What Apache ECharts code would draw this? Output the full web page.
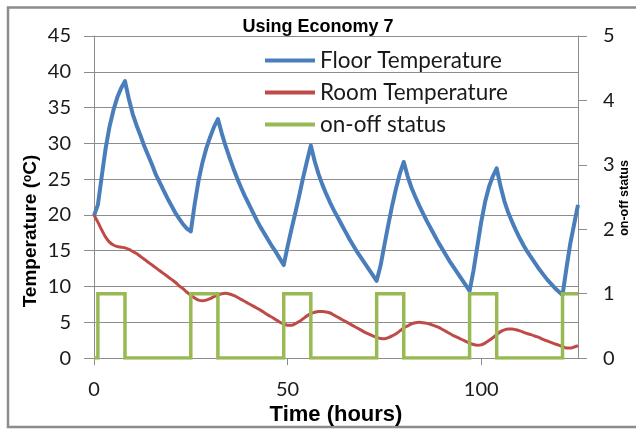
<!DOCTYPE html>
<html>
<head>
<meta charset="utf-8">
<script src="https://cdn.jsdelivr.net/npm/echarts@6.0.0/dist/echarts.min.js"></script>
<style>
  html, body { margin: 0; padding: 0; background: #ffffff; }
  #chart { width: 636px; height: 431px; }
</style>
</head>
<body>
<div id="chart"></div>
<script>
// Hourly simulation output, t = 0 .. 125 h
const floorTemperature = [
  19.9, 21.4, 25.4, 29.3, 32.3, 34.6, 36.4, 37.7, 38.7,
  36.2, 34.1, 32.5, 31.1, 29.6, 28.3, 27.0, 25.6, 24.5, 23.4, 22.3, 21.3, 20.3, 19.5, 18.7, 18.1, 17.7,
  21.5, 24.8, 27.3, 29.3, 30.9, 32.3, 33.4,
  31.4, 29.6, 28.0, 26.5, 25.1, 23.8, 22.6, 21.5, 20.4, 19.3, 18.3, 17.4, 16.5, 15.6, 14.8, 13.9, 13.0,
  15.6, 18.0, 20.3, 22.7, 25.2, 27.5, 29.7,
  27.5, 25.7, 24.2, 22.9, 21.7, 20.6, 19.6, 18.6, 17.6, 16.6, 15.7, 14.8, 14.0, 13.2, 12.4, 11.6, 10.8,
  12.9, 15.8, 18.6, 21.3, 23.7, 25.8, 27.4,
  25.4, 23.8, 22.5, 21.3, 20.2, 19.1, 18.1, 17.1, 16.1, 15.2, 14.3, 13.4, 12.6, 11.8, 11.0, 10.2, 9.4,
  12.2, 15.6, 19.0, 21.8, 23.9, 25.4, 26.5,
  24.0, 21.9, 20.3, 19.0, 17.8, 16.7, 15.7, 14.8, 14.0, 13.2, 12.4, 11.7, 11.0, 10.4, 9.8, 9.3, 8.8,
  12.5, 16.0, 18.7, 21.4
];

const roomTemperature = [
  20.0, 19.0, 17.9, 16.9, 16.2, 15.8, 15.6, 15.5, 15.4, 15.2,
  14.9, 14.6, 14.2, 13.8, 13.4, 13.0, 12.6, 12.2, 11.8, 11.4,
  11.0, 10.6, 10.1, 9.7, 9.2, 8.8, 8.4, 8.1, 8.0, 8.1,
  8.3, 8.6, 8.8, 9.0, 9.05, 8.95, 8.75, 8.5, 8.2, 7.9,
  7.6, 7.3, 7.0, 6.7, 6.35, 6.0, 5.7, 5.35, 5.0, 4.75,
  4.6, 4.6, 4.8, 5.1, 5.5, 5.9, 6.2, 6.4, 6.5, 6.5,
  6.45, 6.3, 6.0, 5.7, 5.4, 5.1, 4.8, 4.5, 4.2, 3.9,
  3.6, 3.35, 3.1, 2.9, 2.75, 2.7, 2.85, 3.1, 3.4, 3.8,
  4.2, 4.5, 4.8, 4.95, 5.0, 4.95, 4.85, 4.7, 4.5, 4.3,
  4.0, 3.7, 3.4, 3.1, 2.85, 2.6, 2.35, 2.1, 1.9, 1.8,
  1.85, 2.1, 2.45, 2.85, 3.3, 3.7, 3.95, 4.05, 4.05, 3.95,
  3.8, 3.6, 3.4, 3.25, 3.05, 2.85, 2.6, 2.4, 2.2, 2.0,
  1.8, 1.6, 1.4, 1.4, 1.55, 1.75
];

// Off-peak heater switching times (hours)
const switchOnHours = [1, 25, 49, 73, 97, 121];
const switchOffHours = [8, 32, 56, 80, 104];
const endHour = 125;

const timeTicks = [0, 50, 100];
const seriesNames = ['Floor Temperature', 'Room Temperature', 'on-off status'];

const hours = floorTemperature.map((_, i) => i);
const floorData = hours.map((h, i) => [h, floorTemperature[i]]);
const roomData = hours.map((h, i) => [h, roomTemperature[i]]);

// Square wave: vertical edges at each switching time
const statusData = [[0, 0]];
switchOnHours.forEach((on, i) => {
  statusData.push([on, 0], [on, 1]);
  const off = switchOffHours[i];
  if (off !== undefined) {
    statusData.push([off, 1], [off, 0]);
  } else {
    statusData.push([endHour, 1]);
  }
});

const axisGray = '#8c8c8c';
const frameGray = '#8c8c8c';
const labelFont = 'Lato';

const chart = echarts.init(document.getElementById('chart'), null, { renderer: 'canvas' });
chart.setOption({
  animation: false,
  backgroundColor: '#ffffff',
  title: {
    text: 'Using Economy 7',
    left: 'center',
    top: 13,
    textStyle: { fontFamily: 'Liberation Sans', fontWeight: 'bold', fontSize: 18, color: '#000' }
  },
  legend: {
    orient: 'vertical',
    left: 265,
    top: 49,
    padding: 0,
    icon: 'rect',
    itemWidth: 50,
    itemHeight: 4,
    itemGap: 9,
    data: seriesNames,
    textStyle: { fontFamily: labelFont, fontSize: 22.5, lineHeight: 22, color: '#1a1a1a' }
  },
  grid: { left: 94, right: 58, top: 36, bottom: 64, containLabel: false },
  xAxis: {
    type: 'value',
    min: 0,
    max: endHour,
    name: 'Time (hours)',
    nameLocation: 'middle',
    nameGap: 45,
    nameTextStyle: { fontFamily: 'Liberation Sans', fontWeight: 'bold', fontSize: 22, color: '#000' },
    axisLine: { show: true, lineStyle: { color: axisGray, width: 1 } },
    axisTick: { show: true, length: 7, customValues: timeTicks, lineStyle: { color: axisGray } },
    axisLabel: { customValues: timeTicks, margin: 21, fontFamily: labelFont, fontSize: 20, color: '#1a1a1a' },
    splitLine: { show: false }
  },
  yAxis: [
    {
      type: 'value',
      min: 0,
      max: 45,
      interval: 5,
      axisLine: { show: true, lineStyle: { color: axisGray, width: 1 } },
      axisTick: { show: true, length: 10, lineStyle: { color: axisGray } },
      axisLabel: { margin: 23, fontFamily: labelFont, fontSize: 20, color: '#1a1a1a' },
      splitLine: { show: true, lineStyle: { color: axisGray, width: 1 } }
    },
    {
      type: 'value',
      min: 0,
      max: 5,
      interval: 1,
      position: 'right',
      axisLine: { show: true, lineStyle: { color: axisGray, width: 1 } },
      axisTick: { show: true, length: 9, lineStyle: { color: axisGray } },
      axisLabel: { margin: 25, fontFamily: labelFont, fontSize: 20, color: '#1a1a1a' },
      splitLine: { show: false }
    }
  ],
  graphic: [
    // chart frame: open on the right-hand side
    {
      type: 'polyline',
      shape: { points: [[636, 7.5], [8, 7.5], [8, 427], [636, 427]] },
      style: { fill: 'none', stroke: frameGray, lineWidth: 2.5 },
      silent: true
    },
    {
      type: 'text',
      x: 31,
      y: 231,
      rotation: Math.PI / 2,
      style: {
        text: '{a|Temperature (}{s|o}{a|C)}',
        align: 'center',
        verticalAlign: 'middle',
        rich: {
          a: { fontFamily: 'Liberation Sans', fontWeight: 'bold', fontSize: 19, fill: '#000' },
          s: { fontFamily: 'Liberation Sans', fontWeight: 'bold', fontSize: 12, fill: '#000', verticalAlign: 'top' }
        }
      }
    },
    {
      type: 'text',
      x: 625,
      y: 198,
      rotation: Math.PI / 2,
      style: {
        text: 'on-off status',
        align: 'center',
        verticalAlign: 'middle',
        fontFamily: 'Liberation Sans',
        fontWeight: 'bold',
        fontSize: 12.5,
        fill: '#000'
      }
    }
  ],
  series: [
    {
      name: seriesNames[0],
      type: 'line',
      yAxisIndex: 0,
      data: floorData,
      showSymbol: false,
      symbol: 'none',
      lineStyle: { color: '#4A7EBB', width: 4, join: 'round' },
      itemStyle: { color: '#4A7EBB' }
    },
    {
      name: seriesNames[1],
      type: 'line',
      yAxisIndex: 0,
      data: roomData,
      smooth: 0.3,
      showSymbol: false,
      symbol: 'none',
      lineStyle: { color: '#BE4B48', width: 3 },
      itemStyle: { color: '#BE4B48' }
    },
    {
      name: seriesNames[2],
      type: 'line',
      yAxisIndex: 1,
      data: statusData,
      showSymbol: false,
      symbol: 'none',
      lineStyle: { color: '#98B954', width: 3.5, join: 'miter', cap: 'butt' },
      itemStyle: { color: '#98B954' }
    }
  ]
});
</script>
</body>
</html>
